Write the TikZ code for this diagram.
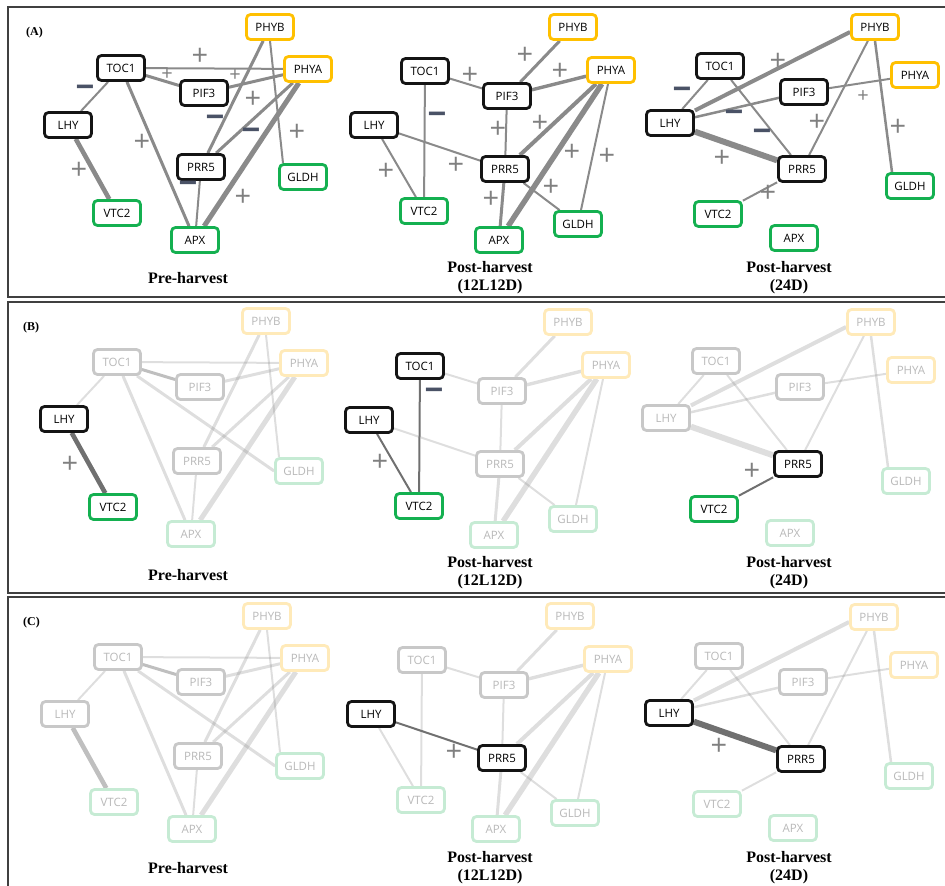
\documentclass[tikz,border=0pt]{standalone}
\usepackage{fontspec}
\setmainfont{Open Sans}
\newfontfamily\tserif{Liberation Serif}
\usetikzlibrary{backgrounds}
\definecolor{nblack}{RGB}{20,20,20}
\definecolor{nyellow}{RGB}{255,192,0}
\definecolor{ngreen}{RGB}{20,176,80}
\definecolor{fblack}{RGB}{200,200,200}
\definecolor{fyellow}{RGB}{255,234,185}
\definecolor{fgreen}{RGB}{198,235,212}
\definecolor{ftext}{RGB}{185,185,185}
\definecolor{edgec}{RGB}{138,138,138}
\definecolor{hiedge}{RGB}{112,112,112}
\definecolor{plusc}{RGB}{128,128,128}
\definecolor{minc}{RGB}{74,82,102}
\definecolor{framec}{RGB}{64,64,64}
\tikzset{
 box/.style={rectangle, rounded corners=4pt, line width=2.8pt, fill=white,
   minimum width=47pt, minimum height=25pt, inner sep=0pt,
   font=\fontsize{11.5}{13}\selectfont},
 kb/.style={draw=nblack,text=black},
 ky/.style={draw=nyellow,text=black},
 kg/.style={draw=ngreen,text=black},
 fb/.style={draw=fblack,text=ftext},
 fy/.style={draw=fyellow,text=ftext},
 fg/.style={draw=fgreen,text=ftext},
 TB/.style={kb}, TY/.style={ky}, TG/.style={kg},
 eN/.style={draw=edgec},
 eH/.style={draw=hiedge, draw opacity=1},
 eF/.style={draw=edgec, draw opacity=0.28},
 eD/.style={draw=edgec, draw opacity=0.55},
 ED/.style={eN},
 XE/.style={draw=none},
 w2/.style={line width=2pt}, w25/.style={line width=2.5pt},
 w3/.style={line width=3pt}, w35/.style={line width=3.4pt},
 w4/.style={line width=4pt}, w45/.style={line width=4.6pt},
 w5/.style={line width=5pt}, w55/.style={line width=5.4pt},
 w6/.style={line width=6pt},
 pl/.style={text=plusc, inner sep=0pt, font=\fontsize{29}{30}\selectfont},
 ps/.style={text=plusc, inner sep=0pt, font=\fontsize{20}{21}\selectfont},
 mi/.style={text=minc, inner sep=0pt, font=\bfseries\fontsize{33}{34}\selectfont},
 ttl/.style={font=\tserif\bfseries\fontsize{16}{17.5}\selectfont, align=center, inner sep=0pt, anchor=base},
 plab/.style={font=\tserif\bfseries\fontsize{12}{14}\selectfont, inner sep=0pt, anchor=base west},
 frame/.style={draw=framec, line width=1.3pt},
}
\newcommand\netPre[1]{%
 \node[box,TY,n-PHYB/.try] (#1PHYB) at (270,27) {PHYB};
 \node[box,TB,n-TOC1/.try] (#1TOC1) at (121,68) {TOC1};
 \node[box,TY,n-PHYA/.try] (#1PHYA) at (308,69) {PHYA};
 \node[box,TB,n-PIF3/.try] (#1PIF3) at (204,93) {PIF3};
 \node[box,TB,n-LHY/.try] (#1LHY) at (68,125) {LHY};
 \node[box,TB,n-PRR5/.try] (#1PRR5) at (201,167) {PRR5};
 \node[box,TG,n-GLDH/.try] (#1GLDH) at (303,177) {GLDH};
 \node[box,TG,n-VTC2/.try] (#1VTC2) at (117,213) {VTC2};
 \node[box,TG,n-APX/.try] (#1APX) at (195,240) {APX};
 \begin{scope}[on background layer]
  \draw[ED,w2,e-TOC1PHYA/.try] (#1TOC1) -- (#1PHYA);
  \draw[ED,w3,e-TOC1PIF3/.try] (#1TOC1) -- (#1PIF3);
  \draw[ED,w3,e-PIF3PHYA/.try] (#1PIF3) -- (#1PHYA);
  \draw[ED,w2,e-TOC1LHY/.try] (#1TOC1) -- (#1LHY);
  \draw[ED,w3,e-TOC1APX/.try] (#1TOC1) -- (#1APX);
  \draw[ED,w3,XE] (#1TOC1) -- (#1GLDH.west);
  \draw[ED,w45,e-LHYVTC2/.try] (#1LHY) -- (#1VTC2);
  \draw[ED,w3,e-PHYBPRR5/.try] (#1PHYB) -- (#1PRR5);
  \draw[ED,w3,e-PHYAPRR5/.try] (#1PHYA) -- (#1PRR5);
  \draw[ED,w5,e-PHYAAPX/.try] (#1PHYA) -- (#1APX);
  \draw[ED,w2,e-PHYBGLDH/.try] (#1PHYB.south) -- ([xshift=-20pt]#1GLDH.north);
  \draw[ED,w2,e-PRR5APX/.try] (#1PRR5) -- (#1APX);
 \end{scope}}
\newcommand\netMid[1]{%
 \node[box,TY,n-PHYB/.try] (#1PHYB) at (573,27) {PHYB};
 \node[box,TB,n-TOC1/.try] (#1TOC1) at (425,71) {TOC1};
 \node[box,TY,n-PHYA/.try] (#1PHYA) at (611,70) {PHYA};
 \node[box,TB,n-PIF3/.try] (#1PIF3) at (507,96) {PIF3};
 \node[box,TB,n-LHY/.try] (#1LHY) at (374,125) {LHY};
 \node[box,TB,n-PRR5/.try] (#1PRR5) at (505,169) {PRR5};
 \node[box,TG,n-VTC2/.try] (#1VTC2) at (424,211) {VTC2};
 \node[box,TG,n-APX/.try] (#1APX) at (499,240) {APX};
 \node[box,TG,n-GLDH/.try] (#1GLDH) at (578,224) {GLDH};
 \begin{scope}[on background layer]
  \draw[ED,w3,e-PHYBPIF3/.try] (#1PHYB) -- (#1PIF3);
  \draw[ED,w2,e-TOC1PIF3/.try] (#1TOC1) -- (#1PIF3);
  \draw[ED,w35,e-PIF3PHYA/.try] (#1PIF3) -- (#1PHYA);
  \draw[ED,w2,e-TOC1VTC2/.try] (#1TOC1) -- (#1VTC2);
  \draw[ED,w2,e-LHYVTC2/.try] (#1LHY) -- (#1VTC2);
  \draw[ED,w2,e-LHYPRR5/.try] (#1LHY) -- (#1PRR5);
  \draw[ED,w2,e-PIF3PRR5/.try] (#1PIF3) -- (#1PRR5);
  \draw[ED,w4,e-PHYAPRR5/.try] (#1PHYA) -- (#1PRR5);
  \draw[ED,w55,e-PHYAAPX/.try] (#1PHYA) -- (#1APX);
  \draw[ED,w2,e-PHYAGLDH/.try] (#1PHYA) -- (#1GLDH);
  \draw[ED,w3,e-PRR5APX/.try] (#1PRR5) -- (#1APX);
  \draw[ED,w2,e-PRR5GLDH/.try] (#1PRR5) -- (#1GLDH);
 \end{scope}}
\newcommand\netDark[1]{%
 \node[box,TY,n-PHYB/.try] (#1PHYB) at (875,27) {PHYB};
 \node[box,TB,n-TOC1/.try] (#1TOC1) at (720,66) {TOC1};
 \node[box,TY,n-PHYA/.try] (#1PHYA) at (915,75) {PHYA};
 \node[box,TB,n-PIF3/.try] (#1PIF3) at (804,92) {PIF3};
 \node[box,TB,n-LHY/.try] (#1LHY) at (670,123) {LHY};
 \node[box,TB,n-PRR5/.try] (#1PRR5) at (802,169) {PRR5};
 \node[box,TG,n-GLDH/.try] (#1GLDH) at (910,186) {GLDH};
 \node[box,TG,n-VTC2/.try] (#1VTC2) at (718,214) {VTC2};
 \node[box,TG,n-APX/.try] (#1APX) at (794,238) {APX};
 \begin{scope}[on background layer]
  \draw[ED,w4,e-LHYPHYB/.try] (#1LHY) -- ([yshift=-5pt]#1PHYB.west);
  \draw[ED,w2,e-TOC1LHY/.try] (#1TOC1) -- (#1LHY);
  \draw[ED,w25,e-LHYPIF3/.try] (#1LHY) -- (#1PIF3);
  \draw[ED,w2,e-TOC1PRR5/.try] (#1TOC1) -- (#1PRR5);
  \draw[ED,w6,e-LHYPRR5/.try] (#1LHY) -- (#1PRR5);
  \draw[ED,w2,e-PHYBPRR5/.try] (#1PHYB) -- (#1PRR5);
  \draw[ED,w2,e-PIF3PHYA/.try] (#1PIF3) -- (#1PHYA);
  \draw[ED,w25,e-PHYBGLDH/.try] (#1PHYB.south) -- ([xshift=-18pt]#1GLDH.north);
  \draw[ED,w2,e-PRR5VTC2/.try] (#1PRR5) -- (#1VTC2);
 \end{scope}}
\begin{document}
\begin{tikzpicture}[x=1pt,y=-1pt]
\useasboundingbox (0,0) rectangle (945,886);
% frames
\draw[frame] (950,7) -- (8,7) -- (8,297) -- (950,297);
\draw[frame] (950,302) -- (8,302) -- (8,593) -- (950,593);
\draw[frame] (950,597) -- (8,597) -- (8,895);
\node[plab] (labA) at (26,35) {(A)};
\node[plab] (labB) at (23,330) {(B)};
\node[plab] (labC) at (23,625) {(C)};
% ---------------- panel A
\begin{scope}
 \netPre{a1}
 \netMid{a2}
 \netDark{a3}
\end{scope}
\node[pl] (a1l1) at (200,57) {+};
\node[ps] (a1l2) at (167,75) {+};
\node[ps] (a1l3) at (235,76) {+};
\node[mi] (a1l4) at (85,92) {−};
\node[pl] (a1l5) at (142,143) {+};
\node[pl] (a1l6) at (79,171) {+};
\node[pl] (a1l7) at (253,100) {+};
\node[mi] (a1l8) at (215,122) {−};
\node[mi] (a1l9) at (251,135) {−};
\node[pl] (a1l10) at (297,133) {+};
\node[mi] (a1l11) at (188,188) {−};
\node[pl] (a1l12) at (243,198) {+};
\node[pl] (a2l1) at (525,56) {+};
\node[pl] (a2l2) at (470,76) {+};
\node[pl] (a2l3) at (560,72) {+};
\node[mi] (a2l4) at (437,119) {−};
\node[pl] (a2l5) at (386,172) {+};
\node[pl] (a2l6) at (456,166) {+};
\node[pl] (a2l7) at (498,130) {+};
\node[pl] (a2l8) at (540,124) {+};
\node[pl] (a2l9) at (572,153) {+};
\node[pl] (a2l10) at (607,157) {+};
\node[pl] (a2l11) at (491,200) {+};
\node[pl] (a2l12) at (551,188) {+};
\node[pl] (a3l1) at (778,62) {+};
\node[mi] (a3l2) at (682,94) {−};
\node[mi] (a3l3) at (734,117) {−};
\node[mi] (a3l4) at (762,136) {−};
\node[pl] (a3l5) at (722,159) {+};
\node[pl] (a3l6) at (817,123) {+};
\node[ps] (a3l7) at (863,97) {+};
\node[pl] (a3l8) at (898,128) {+};
\node[pl] (a3l9) at (768,194) {+};
\node[ttl] (ta1) at (188,283) {Pre-harvest};
\node[ttl] (ta2) at (490,290) {Post-harvest\\(12L12D)};
\node[ttl] (ta3) at (789,290) {Post-harvest\\(24D)};
% ---------------- panel B
\begin{scope}[TB/.style={fb}, TY/.style={fy}, TG/.style={fg}, ED/.style={eF}, XE/.style={}]
 \begin{scope}[shift={(-4,294)}, n-LHY/.style={kb}, n-VTC2/.style={kg}, e-LHYVTC2/.style={eH}, e-TOC1PIF3/.style={eD}]
  \netPre{b1}
 \end{scope}
 \begin{scope}[shift={(-5,295)}, n-TOC1/.style={kb}, n-LHY/.style={kb}, n-VTC2/.style={kg}, e-LHYVTC2/.style={eH}, e-TOC1VTC2/.style={eH}]
  \netMid{b2}
 \end{scope}
 \begin{scope}[shift={(-4,295)}, n-PRR5/.style={kb}, n-VTC2/.style={kg}, e-PRR5VTC2/.style={eH}]
  \netDark{b3}
 \end{scope}
\end{scope}
\node[pl] (b1l1) at (70,465) {+};
\node[mi] (b2l1) at (434,395) {−};
\node[pl] (b2l2) at (380,463) {+};
\node[pl] (b3l1) at (752,472) {+};
\node[ttl] (tb1) at (188,580) {Pre-harvest};
\node[ttl] (tb2) at (490,585) {Post-harvest\\(12L12D)};
\node[ttl] (tb3) at (789,585) {Post-harvest\\(24D)};
% ---------------- panel C
\begin{scope}[TB/.style={fb}, TY/.style={fy}, TG/.style={fg}, ED/.style={eF}, XE/.style={}]
 \begin{scope}[shift={(-3,589)}, e-TOC1PIF3/.style={eD}, e-LHYVTC2/.style={eD}]
  \netPre{c1}
 \end{scope}
 \begin{scope}[shift={(-3,589)}, n-LHY/.style={kb}, n-PRR5/.style={kb}, e-LHYPRR5/.style={eH}]
  \netMid{c2}
 \end{scope}
 \begin{scope}[shift={(-1,590)}, n-LHY/.style={kb}, n-PRR5/.style={kb}, e-LHYPRR5/.style={eH}]
  \netDark{c3}
 \end{scope}
\end{scope}
\node[pl] (c2l1) at (454,753) {+};
\node[pl] (c3l1) at (719,747) {+};
\node[ttl] (tc1) at (188,873) {Pre-harvest};
\node[ttl] (tc2) at (490,880) {Post-harvest\\(12L12D)};
\node[ttl] (tc3) at (789,880) {Post-harvest\\(24D)};
\end{tikzpicture}
\end{document}
